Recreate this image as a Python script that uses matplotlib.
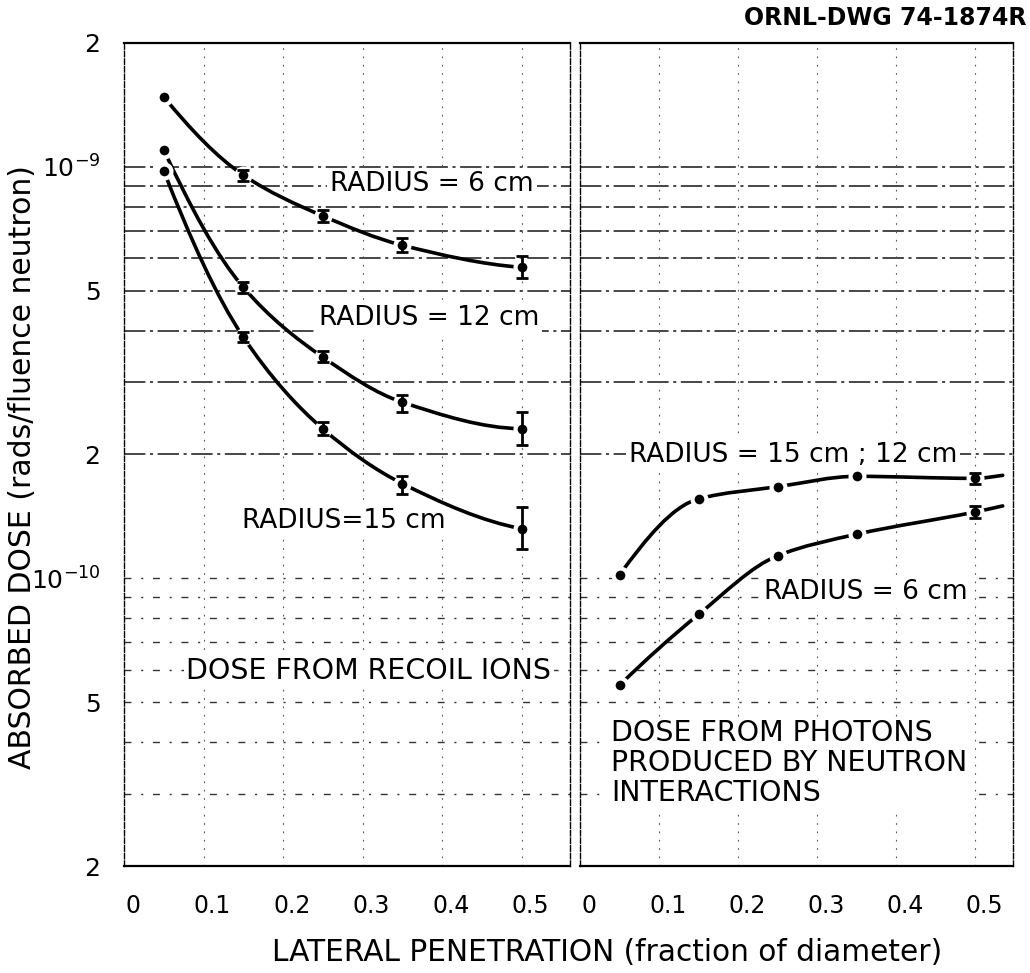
import numpy as np
import matplotlib
matplotlib.use("Agg")
import matplotlib.pyplot as plt
from matplotlib.path import Path
from matplotlib.patches import PathPatch
from matplotlib.ticker import FixedLocator, FixedFormatter, NullLocator, LogLocator
from matplotlib.transforms import ScaledTranslation

# lateral penetration (fraction of diameter) of the measuring points
penetration = [0.05, 0.15, 0.25, 0.35, 0.50]

# dose from recoil ions, rads/fluence neutron
ions_r6 = [1.48e-9, 9.55e-10, 7.6e-10, 6.45e-10, 5.7e-10]
ions_r12 = [1.10e-9, 5.1e-10, 3.45e-10, 2.68e-10, 2.31e-10]
ions_r15 = [9.78e-10, 3.86e-10, 2.31e-10, 1.70e-10, 1.32e-10]

# error bar limits (equal to the value where no bar is drawn)
ions_r6_lo = [1.48e-9, 9.25e-10, 7.35e-10, 6.2e-10, 5.36e-10]
ions_r6_hi = [1.48e-9, 9.85e-10, 7.85e-10, 6.7e-10, 6.06e-10]
ions_r12_lo = [1.10e-9, 4.95e-10, 3.35e-10, 2.54e-10, 2.11e-10]
ions_r12_hi = [1.10e-9, 5.25e-10, 3.56e-10, 2.79e-10, 2.54e-10]
ions_r15_lo = [9.78e-10, 3.75e-10, 2.23e-10, 1.60e-10, 1.18e-10]
ions_r15_hi = [9.78e-10, 3.98e-10, 2.40e-10, 1.77e-10, 1.49e-10]

# dose from photons produced by neutron interactions
phot_r15_12 = [1.02e-10, 1.56e-10, 1.67e-10, 1.77e-10, 1.75e-10]
phot_r6 = [5.5e-11, 8.17e-11, 1.135e-10, 1.28e-10, 1.45e-10]
phot_r15_12_lo = [1.02e-10, 1.56e-10, 1.67e-10, 1.77e-10, 1.70e-10]
phot_r15_12_hi = [1.02e-10, 1.56e-10, 1.67e-10, 1.77e-10, 1.80e-10]
phot_r6_lo = [5.5e-11, 8.17e-11, 1.135e-10, 1.28e-10, 1.40e-10]
phot_r6_hi = [5.5e-11, 8.17e-11, 1.135e-10, 1.28e-10, 1.50e-10]

# the photon curves run on past the last point to the frame
tail_x = 0.535
phot_r15_12_tail = 1.78e-10
phot_r6_tail = 1.50e-10

y_tick_values = [2e-11, 5e-11, 1e-10, 2e-10, 5e-10, 1e-9, 2e-9]
y_tick_labels = ["2", "5", "$10^{-10}$", "2", "5", "$10^{-9}$", "2"]
x_tick_values = [0, 0.1, 0.2, 0.3, 0.4, 0.5]
x_tick_labels = ["0", "0.1", "0.2", "0.3", "0.4", "0.5"]

plt.rcParams["font.family"] = "DejaVu Sans"
plt.rcParams["mathtext.fontset"] = "dejavusans"


def smooth_path(xs, ys):
    """Monotone cubic through the points in (x, log y), as a bezier path."""
    x = np.asarray(xs, dtype=float)
    ly = np.log10(np.asarray(ys, dtype=float))
    h = np.diff(x)
    d = np.diff(ly) / h
    n = len(x)
    m = np.zeros(n)
    for i in range(1, n - 1):
        if d[i - 1] * d[i] > 0:
            w1 = 2 * h[i] + h[i - 1]
            w2 = h[i] + 2 * h[i - 1]
            m[i] = (w1 + w2) / (w1 / d[i - 1] + w2 / d[i])
    # end slopes from three points, kept to the sign of the end chord
    m[0] = ((2 * h[0] + h[1]) * d[0] - h[0] * d[1]) / (h[0] + h[1])
    if np.sign(m[0]) != np.sign(d[0]):
        m[0] = 0
    elif abs(m[0]) > 3 * abs(d[0]):
        m[0] = 3 * d[0]
    m[-1] = ((2 * h[-1] + h[-2]) * d[-1] - h[-1] * d[-2]) / (h[-1] + h[-2])
    if np.sign(m[-1]) != np.sign(d[-1]):
        m[-1] = 0
    elif abs(m[-1]) > 3 * abs(d[-1]):
        m[-1] = 3 * d[-1]
    verts = [(x[0], 10 ** ly[0])]
    codes = [Path.MOVETO]
    for i in range(n - 1):
        verts.append((x[i] + h[i] / 3, 10 ** (ly[i] + m[i] * h[i] / 3)))
        verts.append((x[i + 1] - h[i] / 3, 10 ** (ly[i + 1] - m[i + 1] * h[i] / 3)))
        verts.append((x[i + 1], 10 ** ly[i + 1]))
        codes += [Path.CURVE4] * 3
    return Path(verts, codes)


def draw_series(ax, xs, ys, lo, hi, curve_x=None, curve_y=None):
    cx = xs if curve_x is None else curve_x
    cy = ys if curve_y is None else curve_y
    ax.add_patch(PathPatch(smooth_path(cx, cy), fill=False, lw=2.6,
                           edgecolor="black", capstyle="round", zorder=3))
    ax.plot(xs, ys, "o", ms=10, mfc="black", mec="white", mew=3, zorder=4)
    idx = [i for i in range(len(xs)) if hi[i] > lo[i]]
    if idx:
        ex = [xs[i] for i in idx]
        ey = [ys[i] for i in idx]
        err = [[ys[i] - lo[i] for i in idx], [hi[i] - ys[i] for i in idx]]
        ax.errorbar(ex, ey, yerr=err, fmt="none", ecolor="black",
                    elinewidth=2, capsize=4, capthick=2, zorder=5)


def style_axes(ax, xmax, show_y):
    ax.set_yscale("log")
    ax.set_ylim(2e-11, 2e-9)
    ax.set_xlim(0, xmax)
    ax.xaxis.set_major_locator(FixedLocator(x_tick_values))
    ax.xaxis.set_major_formatter(FixedFormatter(x_tick_labels))
    ax.yaxis.set_major_locator(FixedLocator(y_tick_values))
    ax.yaxis.set_minor_locator(NullLocator())
    if show_y:
        ax.yaxis.set_major_formatter(FixedFormatter(y_tick_labels))
    else:
        ax.yaxis.set_major_formatter(FixedFormatter([""] * len(y_tick_values)))
    ax.tick_params(axis="both", length=0, labelsize=17)
    ax.tick_params(axis="x", pad=20)
    ax.tick_params(axis="y", pad=17, labelsize=18)

    # graph paper: k x 10^n horizontal rules, faint verticals every 0.1
    levels = LogLocator(base=10, subs=np.arange(1, 10)).tick_values(2e-11, 2e-9)
    for v in levels:
        if v <= 2.01e-11 or v >= 1.99e-9:
            continue
        if v >= 1.99e-10:
            ax.axhline(v, color="#151515", lw=1.1, ls=(0, (14, 3, 2, 3)), zorder=1)
        else:
            ax.axhline(v, color="#333333", lw=1.0, ls=(0, (5, 7, 1.5, 7)), zorder=1)
    for v in x_tick_values[1:]:
        ax.axvline(v, color="#555555", lw=0.8, ls=(0, (1.5, 6)), zorder=1)

    for side in ("top", "bottom"):
        ax.spines[side].set_linewidth(1.6)
    for side in ("left", "right"):
        ax.spines[side].set_linewidth(1.0)
        ax.spines[side].set_linestyle((0, (4, 1.5)))

    shift = ScaledTranslation(9 / 100, 0, ax.figure.dpi_scale_trans)
    for lab in ax.get_xticklabels():
        lab.set_transform(lab.get_transform() + shift)


fig = plt.figure(figsize=(10.3, 9.73), dpi=100)
ax_l = fig.add_axes([124 / 1030, 107 / 973, 446 / 1030, 823 / 973])
ax_r = fig.add_axes([580 / 1030, 107 / 973, 433 / 1030, 823 / 973])

style_axes(ax_l, 0.561, True)
style_axes(ax_r, 0.548, False)

# recoil ions
draw_series(ax_l, penetration, ions_r6, ions_r6_lo, ions_r6_hi)
draw_series(ax_l, penetration, ions_r12, ions_r12_lo, ions_r12_hi)
draw_series(ax_l, penetration, ions_r15, ions_r15_lo, ions_r15_hi)

# photons
draw_series(ax_r, penetration, phot_r15_12, phot_r15_12_lo, phot_r15_12_hi,
            penetration + [tail_x], phot_r15_12 + [phot_r15_12_tail])
draw_series(ax_r, penetration, phot_r6, phot_r6_lo, phot_r6_hi,
            penetration + [tail_x], phot_r6 + [phot_r6_tail])

box = dict(facecolor="white", edgecolor="none", pad=2)
ax_l.text(0.691, 0.829, "RADIUS = 6 cm", transform=ax_l.transAxes, fontsize=19,
          ha="center", va="center", bbox=box, zorder=2)
ax_l.text(0.684, 0.666, "RADIUS = 12 cm", transform=ax_l.transAxes, fontsize=19,
          ha="center", va="center", bbox=box, zorder=2)
ax_l.text(0.492, 0.419, "RADIUS=15 cm", transform=ax_l.transAxes, fontsize=19,
          ha="center", va="center", bbox=box, zorder=2)
ax_l.text(0.549, 0.237, "DOSE FROM RECOIL IONS", transform=ax_l.transAxes,
          fontsize=20.5, ha="center", va="center", bbox=box, zorder=2)

ax_r.text(0.492, 0.499, "RADIUS = 15 cm ; 12 cm", transform=ax_r.transAxes,
          fontsize=19, ha="center", va="center", bbox=box, zorder=2)
ax_r.text(0.660, 0.333, "RADIUS = 6 cm", transform=ax_r.transAxes, fontsize=19,
          ha="center", va="center", bbox=box, zorder=2)
ax_r.text(0.072, 0.125, "DOSE FROM PHOTONS\nPRODUCED BY NEUTRON\nINTERACTIONS",
          transform=ax_r.transAxes, fontsize=20.5, ha="left", va="center",
          linespacing=1.08, bbox=box, zorder=2)

fig.text(0.997, 0.9815, "ORNL-DWG 74-1874R", fontsize=17, fontweight="bold",
         ha="right", va="center")
fig.text(0.589, 0.0206, "LATERAL PENETRATION (fraction of diameter)",
         fontsize=21.3, ha="center", va="center")
fig.text(0.0214, 0.52, "ABSORBED DOSE (rads/fluence neutron)", fontsize=21.5,
         rotation=90, ha="center", va="center")

fig.savefig("out.png", dpi=100)
